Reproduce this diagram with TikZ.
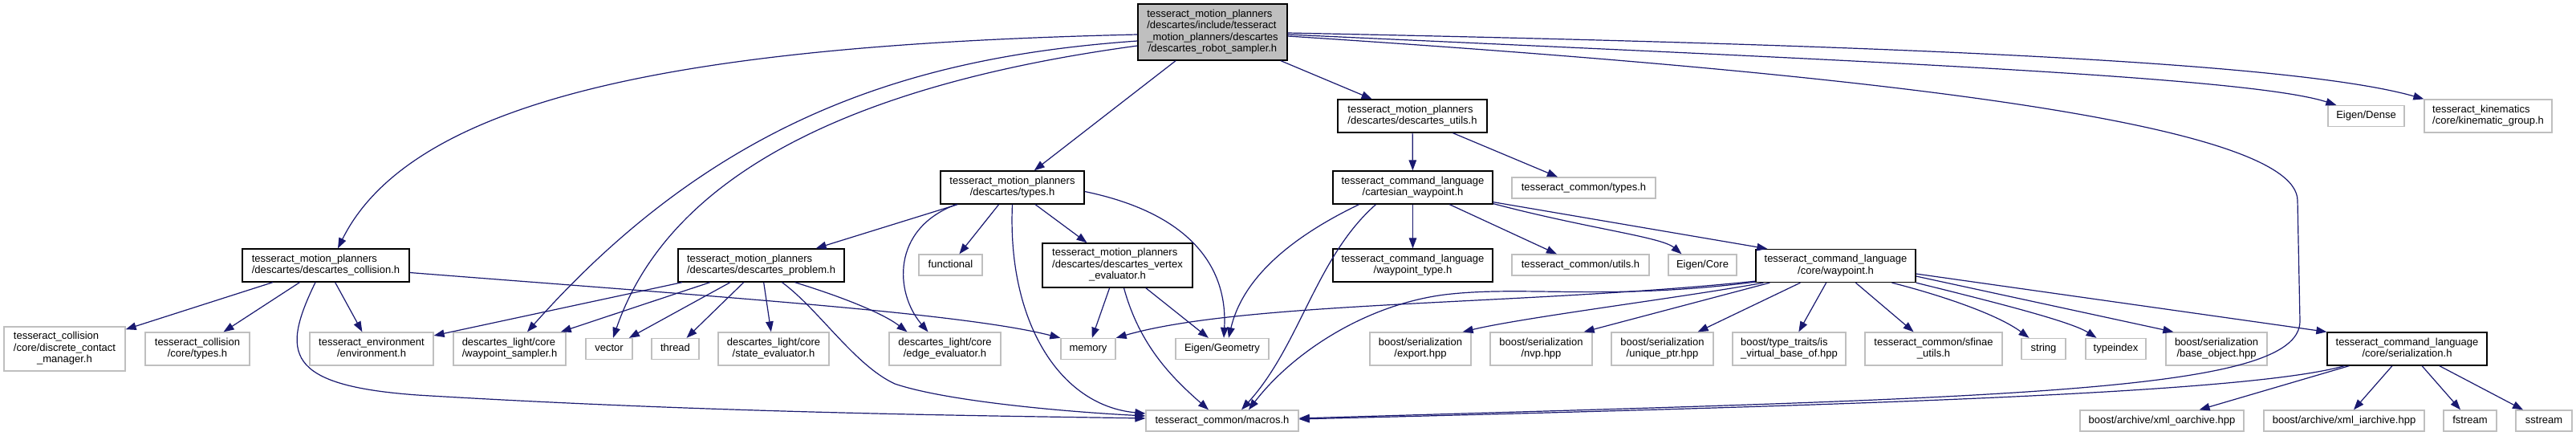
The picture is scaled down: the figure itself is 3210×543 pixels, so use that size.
\documentclass[tikz,border=0pt]{standalone}
\usepackage{fontspec}
\setmainfont{Liberation Sans}
\usepackage{tikz}
\usetikzlibrary{arrows.meta}
\usepackage{xcolor}

\definecolor{edgeblue}{HTML}{191970}
\definecolor{boxgrey}{HTML}{BFBFBF}

\newcommand{\flines}[2]{\begin{tabular}{@{}l@{}}#1\\\multicolumn{1}{@{}c@{}}{#2}\end{tabular}}

\begin{document}
\begin{tikzpicture}[x=1pt, y=-1pt,
  filebox/.style={draw=black, line width=1.3pt, inner sep=0pt, minimum height=#1,
                  font=\fontsize{13}{14.5}\selectfont},
  filebox/.default=41,
  extfile/.style={filebox=#1, draw=boxgrey},
  extfile/.default=41,
  onefile/.style={extfile=26, text height=9.5pt, text depth=3pt},
  dep/.style={draw=edgeblue, line width=1.2pt, -{Triangle[length=13pt,width=9.5pt]}}]

  \path[use as bounding box, fill=white] (0,0) rectangle (3210,543);

  \node[filebox=70, fill=boxgrey, minimum width=186] (root) at (1511,40)
    {\flines{tesseract\_motion\_planners\\/descartes/include/tesseract\\\_motion\_planners/descartes}{/descartes\_robot\_sampler.h}};

  \node[filebox, minimum width=208] (collision) at (406,330.5)
    {\flines{tesseract\_motion\_planners}{/descartes/descartes\_collision.h}};
  \node[extfile=55, minimum width=151] (contact) at (80.5,434.5)
    {\flines{tesseract\_collision\\/core/discrete\_contact}{\_manager.h}};
  \node[extfile, minimum width=130] (colltypes) at (246,434.5)
    {\flines{tesseract\_collision}{/core/types.h}};
  \node[extfile, minimum width=154] (environment) at (463,434.5)
    {\flines{tesseract\_environment}{/environment.h}};
  \node[extfile, minimum width=140] (sampler) at (635,434.5)
    {\flines{descartes\_light/core}{/waypoint\_sampler.h}};
  \node[onefile, minimum width=58] (vector) at (759,434.5) {vector};
  \node[onefile, minimum width=59] (thread) at (841.5,434.5) {thread};
  \node[extfile, minimum width=138] (stateeval) at (964,434.5)
    {\flines{descartes\_light/core}{/state\_evaluator.h}};
  \node[filebox, minimum width=207] (problem) at (948.5,330.5)
    {\flines{tesseract\_motion\_planners}{/descartes/descartes\_problem.h}};
  \node[extfile, minimum width=139] (edgeeval) at (1177.5,434.5)
    {\flines{descartes\_light/core}{/edge\_evaluator.h}};
  \node[onefile, minimum width=68] (memory) at (1356,434.5) {memory};
  \node[onefile, minimum width=116] (geometry) at (1523,434.5) {Eigen/Geometry};
  \node[onefile, minimum width=190] (macros) at (1523,524) {tesseract\_common/macros.h};

  \node[filebox, minimum width=179] (types) at (1261.5,233.5)
    {\flines{tesseract\_motion\_planners}{/descartes/types.h}};
  \node[onefile, minimum width=79] (functional) at (1184.5,330) {functional};
  \node[filebox=55, minimum width=187] (vertexeval) at (1392.5,330.5)
    {\flines{tesseract\_motion\_planners\\/descartes/descartes\_vertex}{\_evaluator.h}};

  \node[filebox, minimum width=186] (utils) at (1760,144.5)
    {\flines{tesseract\_motion\_planners}{/descartes/descartes\_utils.h}};
  \node[filebox, minimum width=199] (cartesian) at (1760.5,233.5)
    {\flines{tesseract\_command\_language}{/cartesian\_waypoint.h}};
  \node[onefile, minimum width=179] (commontypes) at (1973.5,234) {tesseract\_common/types.h};
  \node[filebox, minimum width=199] (waypointtype) at (1760.5,330.5)
    {\flines{tesseract\_command\_language}{/waypoint\_type.h}};
  \node[onefile, minimum width=171] (commonutils) at (1969.5,330) {tesseract\_common/utils.h};
  \node[onefile, minimum width=85] (eigencore) at (2121.5,330) {Eigen/Core};
  \node[filebox, minimum width=199] (waypoint) at (2287.5,331)
    {\flines{tesseract\_command\_language}{/core/waypoint.h}};

  \node[extfile, minimum width=126] (export) at (1770,434.5)
    {\flines{boost/serialization}{/export.hpp}};
  \node[extfile, minimum width=127] (nvp) at (1920.5,434.5)
    {\flines{boost/serialization}{/nvp.hpp}};
  \node[extfile, minimum width=127] (uniqueptr) at (2071.5,434.5)
    {\flines{boost/serialization}{/unique\_ptr.hpp}};
  \node[extfile, minimum width=141] (typetraits) at (2229.5,434.5)
    {\flines{boost/type\_traits/is}{\_virtual\_base\_of.hpp}};
  \node[extfile, minimum width=171] (sfinae) at (2409.5,434.5)
    {\flines{tesseract\_common/sfinae}{\_utils.h}};
  \node[onefile, minimum width=55] (string) at (2546.5,434.5) {string};
  \node[onefile, minimum width=75] (typeindex) at (2636.5,434.5) {typeindex};
  \node[extfile, minimum width=126] (baseobject) at (2762,434.5)
    {\flines{boost/serialization}{/base\_object.hpp}};
  \node[filebox, minimum width=199] (serialization) at (2999.5,434.5)
    {\flines{tesseract\_command\_language}{/core/serialization.h}};

  \node[onefile, minimum width=204] (oarchive) at (2694,524) {boost/archive/xml\_oarchive.hpp};
  \node[onefile, minimum width=200] (iarchive) at (2921,524) {boost/archive/xml\_iarchive.hpp};
  \node[onefile, minimum width=66] (fstream) at (3078,524) {fstream};
  \node[onefile, minimum width=70] (sstream) at (3170,524) {sstream};

  \node[onefile, minimum width=95] (dense) at (2948.5,144.5) {Eigen/Dense};
  \node[extfile, minimum width=159] (kinematic) at (3100.5,144.5)
    {\flines{tesseract\_kinematics}{/core/kinematic\_group.h}};

  \draw[dep] ([yshift=-3]root.west) .. controls (900,55) and (520,110) .. ([xshift=15]collision.north);
  \draw[dep] ([yshift=-11]root.west) .. controls (1150,70) and (900,140) .. ([xshift=22]sampler.north);
  \draw[dep] ([yshift=-17]root.west) .. controls (1100,100) and (840,200) .. ([xshift=5]vector.north);
  \draw[dep] (root) -- (types);
  \draw[dep] (root) -- (utils);
  \draw[dep] ([yshift=-3]root.east) .. controls (2300,75) and (2800,95) .. ([xshift=11]dense.north west);
  \draw[dep] ([yshift=-1]root.east) .. controls (2300,55) and (2850,75) .. (kinematic.north west);
  \draw[dep] ([yshift=-5]root.east) .. controls (2300,90) and (2863,150) .. (2863,250) -- (2866,400)
    .. controls (2866,490) and (2500,495) .. ([yshift=3]macros.east);

  \draw[dep] (collision) -- (contact);
  \draw[dep] (collision) -- (colltypes);
  \draw[dep] (collision) -- (environment);
  \draw[dep] ([xshift=-13]collision.south) .. controls (350,440) and (355,480) .. (520,492)
    .. controls (900,515) and (1250,518) .. ([yshift=3]macros.west);
  \draw[dep] ([yshift=-9]collision.east) .. controls (900,370) and (1200,390) .. (memory.north west);

  \draw[dep] (problem) -- (environment);
  \draw[dep] (problem) -- (sampler);
  \draw[dep] (problem) -- (vector);
  \draw[dep] (problem) -- (thread);
  \draw[dep] (problem) -- (stateeval);
  \draw[dep] ([xshift=42]problem.south) .. controls (1050,370) and (1100,390) .. ([xshift=-47]edgeeval.north);
  \draw[dep] ([xshift=26]problem.south) .. controls (1020,385) and (1065,455) .. (1115,478)
    .. controls (1180,500) and (1330,513) .. ([yshift=6]macros.west);

  \draw[dep] (types) -- (problem);
  \draw[dep] ([xshift=-70]types.south) .. controls (1110,285) and (1115,365) .. ([xshift=-21]edgeeval.north);
  \draw[dep] (types) -- (functional);
  \draw[dep] (types.south) .. controls (1255,400) and (1320,505) .. ([yshift=9]macros.west);
  \draw[dep] (types) -- (vertexeval);
  \draw[dep] ([yshift=-5]types.east) .. controls (1480,265) and (1530,330) .. ([xshift=2]geometry.north);

  \draw[dep] (vertexeval) -- (memory);
  \draw[dep] ([xshift=8]vertexeval.south) .. controls (1420,430) and (1460,470) .. ([xshift=-17]macros.north);
  \draw[dep] (vertexeval) -- (geometry);

  \draw[dep] (utils) -- (cartesian);
  \draw[dep] (utils) -- (commontypes);

  \draw[dep] ([xshift=-67]cartesian.south) .. controls (1620,290) and (1550,340) .. ([xshift=8]geometry.north);
  \draw[dep] ([xshift=-46]cartesian.south) .. controls (1640,320) and (1620,430) .. ([xshift=24]macros.north);
  \draw[dep] (cartesian) -- (waypointtype);
  \draw[dep] (cartesian) -- (commonutils);
  \draw[dep] ([yshift=1]cartesian.south east) .. controls (1980,285) and (2070,295) .. ([xshift=-26]eigencore.north);
  \draw[dep] ([yshift=3]cartesian.south east) -- ([xshift=15]waypoint.north west);

  \draw[dep] ([yshift=2]waypoint.south west) .. controls (1900,380) and (1550,375) .. (memory.north east);
  \draw[dep] ([yshift=1]waypoint.south west) .. controls (2000,375) and (1900,355) .. (1800,367)
    .. controls (1700,380) and (1610,440) .. ([xshift=33]macros.north);
  \draw[dep] ([xshift=10]waypoint.south west) .. controls (2100,370) and (1900,395) .. ([xshift=-11]export.north east);
  \draw[dep] ([xshift=18]waypoint.south west) -- ([xshift=-11]nvp.north east);
  \draw[dep] (waypoint) -- (uniqueptr);
  \draw[dep] (waypoint) -- (typetraits);
  \draw[dep] (waypoint) -- (sfinae);
  \draw[dep] ([xshift=70]waypoint.south) .. controls (2420,368) and (2490,392) .. ([xshift=-18]string.north);
  \draw[dep] (waypoint.south east) .. controls (2480,375) and (2580,400) .. ([xshift=-24]typeindex.north);
  \draw[dep] ([yshift=-13]waypoint.east) -- ([xshift=10]baseobject.north west);
  \draw[dep] ([yshift=-10]waypoint.east) -- (serialization.north west);

  \draw[dep] ([xshift=22]serialization.south west) .. controls (2800,490) and (2300,505) .. ([yshift=2]macros.east);
  \draw[dep] (serialization) -- (oarchive);
  \draw[dep] (serialization) -- (iarchive);
  \draw[dep] (serialization) -- (fstream);
  \draw[dep] (serialization) -- (sstream);
\end{tikzpicture}
\end{document}
